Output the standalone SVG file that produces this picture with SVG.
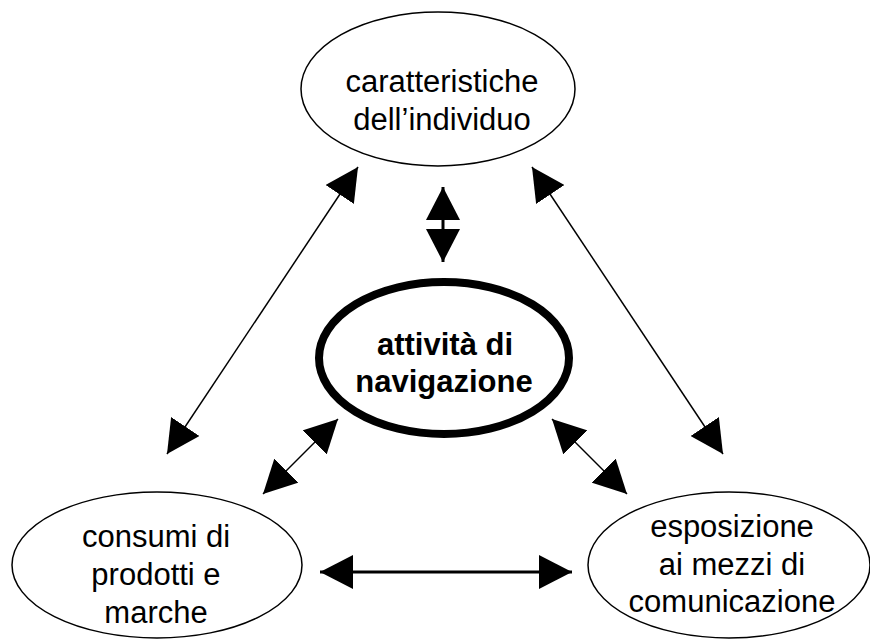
<svg xmlns="http://www.w3.org/2000/svg" width="870" height="640" viewBox="0 0 870 640">
<style>
.node{fill:#fff;stroke:#000;stroke-width:1.5}
.main{fill:#fff;stroke:#000;stroke-width:8}
.t{font-family:"Liberation Sans",Arial,sans-serif;font-size:31px;text-anchor:middle;fill:#000}
.b{font-weight:bold;font-size:31px}
.c{stroke:#000;fill:none;marker-start:url(#ah);marker-end:url(#ah)}
.thin{stroke-width:1.5}
.thick{stroke-width:3}
</style>
<defs>
<marker id="ah" viewBox="0 0 33 34" refX="33" refY="17" markerWidth="33" markerHeight="34" markerUnits="userSpaceOnUse" orient="auto-start-reverse">
<path d="M0,0 L33,17 L0,34 Z" fill="#000"/>
</marker>
</defs>
<g id="connectors">
<line class="c thick" x1="443" y1="187" x2="443" y2="262"/>
<line class="c thin" x1="358" y1="167" x2="167" y2="454"/>
<line class="c thin" x1="532" y1="167" x2="723" y2="454"/>
<line class="c thin" x1="338" y1="419" x2="263" y2="494"/>
<line class="c thin" x1="552" y1="419" x2="627" y2="494"/>
<line class="c thick" x1="320" y1="572" x2="572" y2="572"/>
</g>
<g id="caratteristiche">
<ellipse class="node" cx="438" cy="89" rx="137" ry="77"/>
<text class="t" x="442" y="92">caratteristiche</text>
<text class="t" x="442" y="130">dell’individuo</text>
</g>
<g id="attivita">
<ellipse class="main" cx="444" cy="358" rx="125" ry="76"/>
<text class="t b" x="445" y="355">attività di</text>
<text class="t b" x="444" y="392">navigazione</text>
</g>
<g id="consumi">
<ellipse class="node" cx="157" cy="565" rx="145" ry="73"/>
<text class="t" x="156" y="547">consumi di</text>
<text class="t" x="156" y="585">prodotti e</text>
<text class="t" x="156" y="623">marche</text>
</g>
<g id="esposizione">
<ellipse class="node" cx="729" cy="565" rx="141" ry="73"/>
<text class="t" x="732" y="537">esposizione</text>
<text class="t" x="732" y="575">ai mezzi di</text>
<text class="t" x="732" y="612">comunicazione</text>
</g>
</svg>
